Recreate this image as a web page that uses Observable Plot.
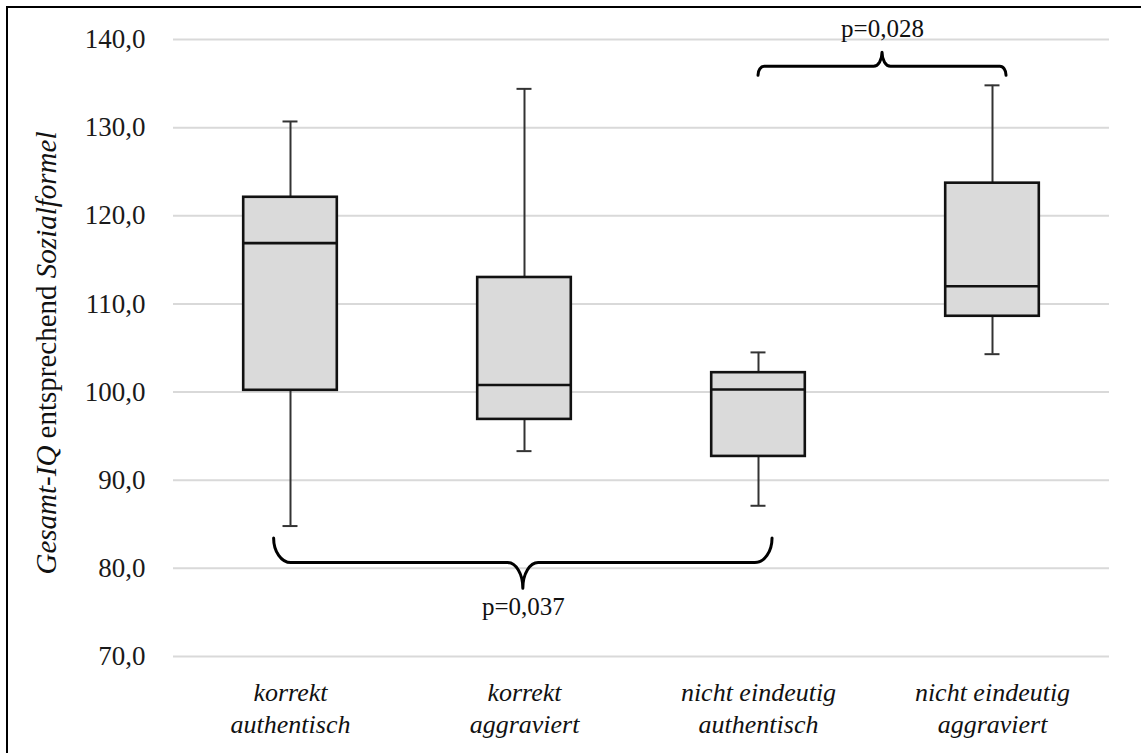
<!DOCTYPE html>
<html><head><meta charset="utf-8">
<script src="https://cdn.jsdelivr.net/npm/d3@7"></script>
<script src="https://cdn.jsdelivr.net/npm/@observablehq/plot@0.6"></script>
<style>
html,body{margin:0;padding:0;background:#fff;}
#wrap{position:relative;width:1141px;height:753px;overflow:hidden;}
#frame{position:absolute;left:5.5px;top:5.5px;width:2000px;height:2000px;border-top:2.5px solid #000;border-left:2.5px solid #000;pointer-events:none;}
</style></head><body>
<div id="wrap"><div id="chart"></div><div id="frame"></div></div>
<script>
// ---- data ----
const categories = ["korrekt\nauthentisch", "korrekt\naggraviert", "nicht eindeutig\nauthentisch", "nicht eindeutig\naggraviert"];
const whiskerLow  = [84.8, 93.3, 87.1, 104.3];
const q1          = [100.2, 96.9, 92.7, 108.6];
const median      = [116.9, 100.8, 100.3, 112.0];
const q3          = [122.1, 113.0, 102.2, 123.7];
const whiskerHigh = [130.7, 134.4, 104.5, 134.8];
const yTicks = [70, 80, 90, 100, 110, 120, 130, 140];

// significance brackets (x in category-index units, y in IQ units)
const bracketFrom   = [0.43, 2.50];
const bracketTo     = [2.56, 3.56];
const bracketEnd    = [83.4, 135.9];
const bracketBar    = [80.6, 136.9];
const bracketTip    = [77.7, 138.5];
const bracketLabels = ["p=0,037", "p=0,028"];
const bracketLabelY = [75.6, 141.2];

const FONT = "'Liberation Serif', 'Times New Roman', serif";

const boxes = categories.map((c, i) => ({
  cat: c, pos: i + 0.5,
  low: whiskerLow[i], q1: q1[i], med: median[i], q3: q3[i], high: whiskerHigh[i]
}));
const brackets = bracketLabels.map((l, i) => ({
  from: bracketFrom[i], to: bracketTo[i], end: bracketEnd[i], bar: bracketBar[i],
  tip: bracketTip[i], label: l, ly: bracketLabelY[i]
}));

const halfBox = 0.2, halfCap = 0.032;

function bracePath(x1, x2, yE, yB, yT) {
  const k = 0.552;
  const xm = (x1 + x2) / 2;
  const rx = Math.abs(yB - yE) * 0.7;
  const r2 = Math.abs(yT - yB) * 0.6;
  return `M${x1},${yE}C${x1},${yE + k * (yB - yE)} ${x1 + rx * (1 - k)},${yB} ${x1 + rx},${yB}` +
         `L${xm - r2},${yB}C${xm - r2 + k * r2},${yB} ${xm},${yT - k * (yT - yB)} ${xm},${yT}` +
         `C${xm},${yT - k * (yT - yB)} ${xm + r2 - k * r2},${yB} ${xm + r2},${yB}` +
         `L${x2 - rx},${yB}C${x2 - rx + k * rx},${yB} ${x2},${yE + k * (yB - yE)} ${x2},${yE}`;
}

const braceMark = (index, scales) => {
  const g = d3.create("svg:g").attr("fill", "none").attr("stroke", "#000")
    .attr("stroke-width", 3).attr("stroke-linecap", "round").attr("stroke-linejoin", "round");
  for (const b of brackets) {
    g.append("path").attr("d", bracePath(scales.x(b.from), scales.x(b.to), scales.y(b.end), scales.y(b.bar), scales.y(b.tip)));
  }
  return g.node();
};

const fmt = d => d.toFixed(1).replace(".", ",");

const yAxisMark = (typeof Plot.axisY === "function")
  ? Plot.axisY({ticks: yTicks, tickFormat: fmt, tickSize: 0, tickPadding: 28, fontSize: 27, fontFamily: FONT, label: null, fill: "#1a1a1a"})
  : Plot.text(yTicks, {y: d => d, frameAnchor: "left", textAnchor: "end", dx: -28, text: fmt, fontSize: 27, fontFamily: FONT, fill: "#1a1a1a"});

const chart = Plot.plot({
  width: 1141, height: 753,
  marginLeft: 173, marginRight: 32, marginTop: 39, marginBottom: 97,
  x: {domain: [0, 4], axis: null},
  y: {domain: [70, 140], axis: null},
  style: {fontFamily: FONT, background: "transparent", overflow: "visible"},
  marks: [
    Plot.ruleY(yTicks, {stroke: "#d9d9d9", strokeWidth: 2}),
    yAxisMark,
    // whiskers
    Plot.ruleX(boxes, {x: "pos", y1: "q3", y2: "high", stroke: "#333", strokeWidth: 2}),
    Plot.ruleX(boxes, {x: "pos", y1: "low", y2: "q1", stroke: "#333", strokeWidth: 2}),
    // caps
    Plot.ruleY(boxes, {y: "high", x1: d => d.pos - halfCap, x2: d => d.pos + halfCap, stroke: "#333", strokeWidth: 2}),
    Plot.ruleY(boxes, {y: "low", x1: d => d.pos - halfCap, x2: d => d.pos + halfCap, stroke: "#333", strokeWidth: 2}),
    // boxes
    Plot.rect(boxes, {x1: d => d.pos - halfBox, x2: d => d.pos + halfBox, y1: "q1", y2: "q3", fill: "#dadada", stroke: "#111", strokeWidth: 2.6}),
    // medians
    Plot.ruleY(boxes, {y: "med", x1: d => d.pos - halfBox, x2: d => d.pos + halfBox, stroke: "#111", strokeWidth: 2.6}),
    // braces
    braceMark,
    Plot.text(brackets, {x: d => (d.from + d.to) / 2, y: "ly", text: "label", fontSize: 25, fontFamily: FONT, fill: "#111", lineAnchor: "middle"}),
    // category labels
    Plot.text(boxes, {x: "pos", text: "cat", frameAnchor: "bottom", lineAnchor: "top", dy: 22, fontSize: 26, fontFamily: FONT, fontStyle: "italic", lineHeight: 1.23, fill: "#111"})
  ]
});
document.getElementById("chart").appendChild(chart);

// y-axis title with mixed styles
const svg = d3.select(chart.tagName.toLowerCase() === "svg" ? chart : chart.querySelector("svg"));
const t = svg.append("text")
  .attr("transform", "translate(56,353) rotate(-90)")
  .attr("text-anchor", "middle")
  .attr("font-family", FONT).attr("font-size", 29).attr("fill", "#111");
t.append("tspan").attr("font-style", "italic").text("Gesamt-IQ");
t.append("tspan").text(" entsprechend ");
t.append("tspan").attr("font-style", "italic").text("Sozialformel");
</script>
</body></html>
